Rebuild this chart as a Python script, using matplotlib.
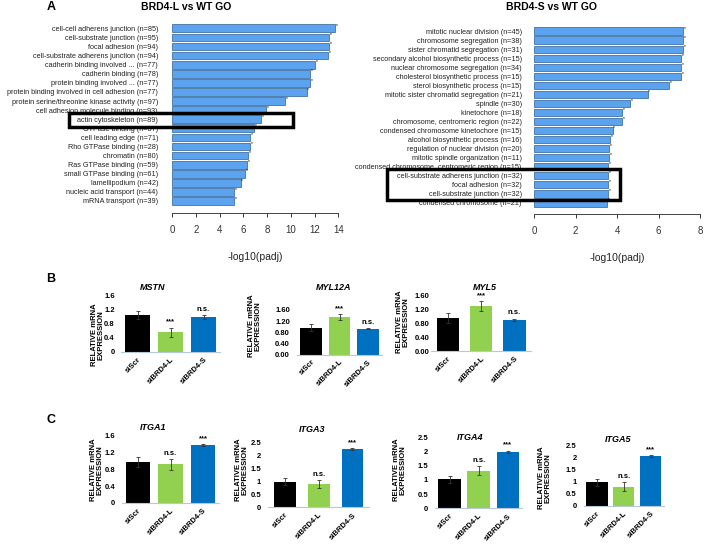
import numpy as np
import matplotlib
matplotlib.use("Agg")
import matplotlib.pyplot as plt
import matplotlib.patches as mpatches

plt.rcParams['font.family'] = ['Liberation Sans', 'DejaVu Sans']

W, H = 705, 546

# GO terms, BRD4-L vs WT
go_l_terms = ["cell-cell adherens junction (n=85)", "cell-substrate junction (n=95)",
              "focal adhesion (n=94)", "cell-substrate adherens junction (n=94)",
              "cadherin binding involved ... (n=77)", "cadherin binding (n=78)",
              "protein binding involved ... (n=77)", "protein binding involved in cell adhesion (n=77)",
              "protein serine/threonine kinase activity (n=97)", "cell adhesion molecule binding (n=93)",
              "actin cytoskeleton (n=89)", "GTPase binding (n=87)", "cell leading edge (n=71)",
              "Rho GTPase binding (n=28)", "chromatin (n=80)", "Ras GTPase binding (n=59)",
              "small GTPase binding (n=61)", "lamellipodium (n=42)",
              "nucleic acid transport (n=44)", "mRNA transport (n=39)"]
go_l_vals = [13.72, 13.2, 13.2, 13.15, 12.03, 11.65, 11.65, 11.33, 9.5, 7.9,
             7.53, 6.9, 6.58, 6.55, 6.43, 6.35, 6.15, 5.78, 5.25, 5.25]

# GO terms, BRD4-S vs WT
go_s_terms = ["mitotic nuclear division (n=45)", "chromosome segregation (n=38)",
              "sister chromatid segregation (n=31)", "secondary alcohol biosynthetic process (n=15)",
              "nuclear chromosome segregation (n=34)", "cholesterol biosynthetic process (n=15)",
              "sterol biosynthetic process (n=15)", "mitotic sister chromatid segregation (n=21)",
              "spindle (n=30)", "kinetochore (n=18)", "chromosome, centromeric region (n=22)",
              "condensed chromosome kinetochore (n=15)", "alcohol biosynthetic process (n=16)",
              "regulation of nuclear division (n=20)", "mitotic spindle organization (n=11)",
              "condensed chromosome, centromeric region (n=15)",
              "cell-substrate adherens junction (n=32)", "focal adhesion (n=32)",
              "cell-substrate junction (n=32)", "condensed chromosome (n=21)"]
go_s_vals = [7.2, 7.2, 7.2, 7.1, 7.1, 7.1, 6.52, 5.47, 4.62, 4.25,
             4.25, 3.78, 3.66, 3.62, 3.62, 3.55, 3.55, 3.55, 3.55, 3.53]

# qPCR
groups = ["siScr", "siBRD4-L", "siBRD4-S"]
mstn_mean = [1.03, 0.55, 0.98]
mstn_err = [0.12, 0.13, 0.05]
mstn_sig = ["", "***", "n.s."]
myl12a_mean = [0.96, 1.35, 0.93]
myl12a_err = [0.12, 0.10, 0.02]
myl12a_sig = ["", "***", "n.s."]
myl5_mean = [0.96, 1.30, 0.90]
myl5_err = [0.14, 0.14, 0.04]
myl5_sig = ["", "***", "n.s."]
itga1_mean = [0.97, 0.92, 1.38]
itga1_err = [0.12, 0.13, 0.03]
itga1_sig = ["", "n.s.", "***"]
itga3_mean = [0.99, 0.90, 2.26]
itga3_err = [0.14, 0.14, 0.04]
itga3_sig = ["", "n.s.", "***"]
itga4_mean = [1.02, 1.33, 2.00]
itga4_err = [0.13, 0.16, 0.03]
itga4_sig = ["", "n.s.", "***"]
itga5_mean = [0.96, 0.79, 2.04]
itga5_err = [0.14, 0.18, 0.03]
itga5_sig = ["", "n.s.", "***"]

bar_colors = ['#000000', '#92d050', '#0070c0']

fig = plt.figure(figsize=(7.05, 5.46), dpi=100)


def px_axes(l, t, r, b):
    return fig.add_axes([l / W, 1 - b / H, (r - l) / W, (b - t) / H])


def ftext(x, y, s, **kw):
    fig.text(x / W, 1 - y / H, s, **kw)


def go_panel(box, first, last, terms, vals, xmax, pad):
    ax = px_axes(*box)
    n = len(terms)
    step = (last - first) / (n - 1)
    y = np.arange(n)
    ax.barh(y, vals, height=0.85, color='#5ba3ef', edgecolor='#2f5f8f', linewidth=0.5)
    for yi, v in zip(y, vals):
        ax.text(v + xmax * 0.004, yi - 0.3, '*', fontsize=3.5, ha='left', va='center')
    ax.set_ylim((box[3] - first) / step, -(first - box[1]) / step)
    ax.set_xlim(0, xmax)
    ax.set_xticks(np.arange(0, xmax + 1, 2))
    ax.set_yticks(y)
    ax.set_yticklabels(terms, fontsize=5.2, color='#222222')
    ax.tick_params(axis='y', length=0, pad=pad)
    ax.tick_params(axis='x', length=3, width=0.7, pad=6, labelsize=7, colors='#333333')
    for sp in ['top', 'right', 'left']:
        ax.spines[sp].set_visible(False)
    ax.spines['bottom'].set_color('#444444')
    ax.spines['bottom'].set_linewidth(0.7)
    ax.set_xlabel('-log10(padj)', fontsize=7.5, labelpad=12, color='#222222')
    return ax


go_panel((172, 22, 338.3, 213), 28.3, 201, go_l_terms, go_l_vals, 14, 10)
go_panel((534.3, 22, 700, 214), 31.3, 202.7, go_s_terms, go_s_vals, 8, 9)

ftext(51, 7, 'A', fontsize=9, fontweight='bold', ha='center', va='center')
ftext(186.5, 7, 'BRD4-L vs WT GO', fontsize=7.5, fontweight='bold', ha='center', va='center')
ftext(551, 7, 'BRD4-S vs WT GO', fontsize=7.5, fontweight='bold', ha='center', va='center')

for rect in [(69, 113, 293, 127), (387, 169, 620, 200)]:
    fig.add_artist(mpatches.Rectangle((rect[0] / W, 1 - rect[3] / H),
                                      (rect[2] - rect[0]) / W, (rect[3] - rect[1]) / H,
                                      transform=fig.transFigure, fill=False,
                                      lw=2.5, ec='black'))


def gene_panel(box, mean, err, sig, ymax, step, fmt, width, ypad):
    ax = px_axes(*box)
    x = np.arange(len(groups))
    ax.bar(x, mean, width=width, color=bar_colors, zorder=2)
    ax.errorbar(x, mean, yerr=err, fmt='none', ecolor='#333333', elinewidth=0.6,
                capsize=1.5, capthick=0.6, zorder=3)
    for xi, m, e, s in zip(x, mean, err, sig):
        if s:
            ax.annotate(s, (xi, m + e), xytext=(0, 1.5), textcoords='offset points',
                        ha='center', va='bottom', fontsize=5.5, fontweight='bold',
                        annotation_clip=False)
    ax.set_xlim(-0.5, 2.5)
    ax.set_ylim(0, ymax)
    ticks = np.arange(0, ymax + step / 2, step)
    ax.set_yticks(ticks)
    ax.set_yticklabels([fmt % t for t in ticks], fontsize=5.5, fontweight='bold')
    ax.set_xticks(x)
    ax.set_xticklabels(groups, rotation=45, ha='right', va='top', rotation_mode='anchor',
                       fontsize=5.5, fontweight='bold')
    ax.tick_params(axis='y', length=0, pad=ypad)
    ax.tick_params(axis='x', length=0, pad=3)
    for sp in ['top', 'right', 'left']:
        ax.spines[sp].set_visible(False)
    ax.spines['bottom'].set_color('#b8c8dc')
    ax.spines['bottom'].set_linewidth(0.8)
    return ax


gene_panel((121, 295, 220, 351.7), mstn_mean, mstn_err, mstn_sig, 1.6, 0.4, '%g', 0.76, 4.5)
gene_panel((297, 310, 382.2, 354.5), myl12a_mean, myl12a_err, myl12a_sig, 1.6, 0.4, '%.2f', 0.76, 5)
gene_panel((431, 295.7, 531, 351), myl5_mean, myl5_err, myl5_sig, 1.6, 0.4, '%.2f', 0.67, 1)
gene_panel((121.7, 436, 219.3, 502.7), itga1_mean, itga1_err, itga1_sig, 1.6, 0.4, '%g', 0.74, 4.5)
gene_panel((268, 442.8, 369.4, 507.3), itga3_mean, itga3_err, itga3_sig, 2.5, 0.5, '%g', 0.64, 5)
gene_panel((435, 437.5, 522.4, 508.3), itga4_mean, itga4_err, itga4_sig, 2.5, 0.5, '%g', 0.77, 5)
gene_panel((583.5, 445, 664, 505.7), itga5_mean, itga5_err, itga5_sig, 2.5, 0.5, '%g', 0.8, 5)

gene_titles = [('MSTN', 153, 288), ('MYL12A', 334, 288), ('MYL5', 485, 287),
               ('ITGA1', 153, 428), ('ITGA3', 312, 429), ('ITGA4', 470, 438), ('ITGA5', 618, 439)]
for name, x, y in gene_titles:
    ftext(x, y, name, fontsize=6.5, fontweight='bold', fontstyle='italic', ha='center', va='center')

ylab_pos = [(98, 335), (255, 326), (403, 322), (97, 470), (242, 470), (400, 470), (545, 478)]
for x, y in ylab_pos:
    ftext(x, y, 'RELATIVE mRNA\nEXPRESSION', fontsize=5.5, fontweight='bold', rotation=90,
          ha='center', va='center', linespacing=0.85)

ftext(51, 279, 'B', fontsize=9, fontweight='bold', ha='center', va='center')
ftext(51, 420, 'C', fontsize=9, fontweight='bold', ha='center', va='center')

fig.savefig('out.png', dpi=100)
